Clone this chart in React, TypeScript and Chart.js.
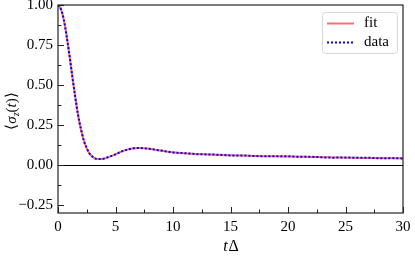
import React, { useEffect, useRef } from "react";
import { Chart, registerables } from "chart.js";

Chart.register(...registerables);

const timeValues = [0, 0.25, 0.5, 0.75, 1.0, 1.25, 1.5, 1.75, 2.0, 2.25, 2.5, 2.75, 3.0, 3.25, 3.5, 3.75, 4.0, 4.5, 5, 5.5, 6, 6.5, 7, 7.5, 8, 9, 10, 11, 12, 13, 14, 15, 16, 17, 18, 19, 20, 21, 22, 23, 24, 25, 26, 27, 28, 29, 30];
const fitValues = [1.0, 0.976, 0.909, 0.807, 0.683, 0.551, 0.424, 0.311, 0.222, 0.153, 0.104, 0.071, 0.051, 0.041, 0.037, 0.037, 0.040, 0.052, 0.067, 0.083, 0.096, 0.103, 0.106, 0.105, 0.101, 0.089, 0.079, 0.073, 0.069, 0.066, 0.063, 0.061, 0.059, 0.057, 0.055, 0.054, 0.053, 0.052, 0.050, 0.049, 0.047, 0.046, 0.045, 0.044, 0.043, 0.042, 0.041];
const dataValues = [1.0, 0.975, 0.910, 0.806, 0.684, 0.550, 0.425, 0.310, 0.223, 0.152, 0.105, 0.070, 0.052, 0.040, 0.037, 0.038, 0.040, 0.053, 0.066, 0.084, 0.095, 0.104, 0.106, 0.104, 0.100, 0.090, 0.078, 0.074, 0.068, 0.066, 0.064, 0.060, 0.060, 0.056, 0.055, 0.055, 0.054, 0.051, 0.051, 0.048, 0.046, 0.047, 0.045, 0.045, 0.042, 0.043, 0.041];
const xMajorTicks = [0, 5, 10, 15, 20, 25, 30];
const xMinorTicks = [2.5, 7.5, 12.5, 17.5, 22.5, 27.5];
const yMajorTicks = [-0.25, 0, 0.25, 0.5, 0.75, 1.0];
const yMinorTicks = [-0.125, 0.125, 0.375, 0.625, 0.875];
const seriesNames = ["fit", "data"];
const xTitle = ["t", "Δ"];

const SERIF = "'Liberation Serif', serif";
const FIT_COLOR = "#ff6b6b";
const DATA_COLOR = "#0000ff";

const decor = {
  id: "decor",
  beforeDatasetsDraw(chart: any) {
    const { ctx, chartArea: a, scales } = chart;
    const y0 = Math.round(scales.y.getPixelForValue(0)) + 0.5;
    ctx.save();
    ctx.strokeStyle = "#000";
    ctx.lineWidth = 1.2;
    ctx.beginPath();
    ctx.moveTo(a.left, y0);
    ctx.lineTo(a.right, y0);
    ctx.stroke();
    ctx.restore();
  },
  afterDraw(chart: any) {
    const { ctx, chartArea: a, scales } = chart;
    ctx.save();
    ctx.strokeStyle = "#222";
    ctx.lineWidth = 1.2;
    ctx.strokeRect(a.left, a.top, a.right - a.left, a.bottom - a.top);
    ctx.lineWidth = 1;
    const tick = (x1: number, y1: number, x2: number, y2: number) => {
      ctx.beginPath();
      ctx.moveTo(x1, y1);
      ctx.lineTo(x2, y2);
      ctx.stroke();
    };
    xMajorTicks.forEach((v) => {
      const x = Math.round(scales.x.getPixelForValue(v)) + 0.5;
      tick(x, a.bottom, x, a.bottom - 6);
    });
    xMinorTicks.forEach((v) => {
      const x = Math.round(scales.x.getPixelForValue(v)) + 0.5;
      tick(x, a.bottom, x, a.bottom - 3.5);
    });
    yMajorTicks.forEach((v) => {
      const y = Math.round(scales.y.getPixelForValue(v)) + 0.5;
      tick(a.left, y, a.left + 6, y);
    });
    yMinorTicks.forEach((v) => {
      const y = Math.round(scales.y.getPixelForValue(v)) + 0.5;
      tick(a.left, y, a.left + 3.5, y);
    });

    // x title
    ctx.fillStyle = "#000";
    ctx.textBaseline = "alphabetic";
    const cx = (a.left + a.right) / 2;
    ctx.font = `italic 16px ${SERIF}`;
    const w1 = ctx.measureText(xTitle[0]).width;
    ctx.font = `16px ${SERIF}`;
    const w2 = ctx.measureText(xTitle[1]).width;
    const sx = cx - (w1 + w2) / 2;
    ctx.font = `italic 16px ${SERIF}`;
    ctx.textAlign = "left";
    ctx.fillText(xTitle[0], sx, 251);
    ctx.font = `16px ${SERIF}`;
    ctx.fillText(xTitle[1], sx + w1 + 1, 251);

    // y title
    const cy = (a.top + a.bottom) / 2 + 2;
    ctx.save();
    ctx.translate(16, cy);
    ctx.rotate(-Math.PI / 2);
    const parts: [string, string, number][] = [
      ["⟨", `15px ${SERIF}`, 0],
      ["σ", `italic 15px ${SERIF}`, 0],
      ["z", `italic 10px ${SERIF}`, 3],
      ["(", `15px ${SERIF}`, 0],
      ["t", `italic 15px ${SERIF}`, 0],
      [")", `15px ${SERIF}`, 0],
      ["⟩", `15px ${SERIF}`, 0],
    ];
    let total = 0;
    parts.forEach(([s, f]) => {
      ctx.font = f;
      total += ctx.measureText(s).width;
    });
    let px = -total / 2;
    parts.forEach(([s, f, dy]) => {
      ctx.font = f;
      ctx.fillText(s, px, dy);
      px += ctx.measureText(s).width;
    });
    ctx.restore();

    // legend
    const lx = 322, ly = 12, lw = 75, lh = 41;
    ctx.fillStyle = "rgba(255,255,255,0.85)";
    ctx.strokeStyle = "#d8d8d8";
    ctx.lineWidth = 1;
    ctx.beginPath();
    (ctx as any).roundRect(lx + 0.5, ly + 0.5, lw, lh, 3);
    ctx.fill();
    ctx.stroke();
    ctx.lineWidth = 2;
    ctx.strokeStyle = FIT_COLOR;
    tick(lx + 5, ly + 11.5, lx + 32, ly + 11.5);
    ctx.strokeStyle = DATA_COLOR;
    ctx.setLineDash([2, 2]);
    tick(lx + 5, ly + 30.5, lx + 32, ly + 30.5);
    ctx.setLineDash([]);
    ctx.fillStyle = "#000";
    ctx.font = `15px ${SERIF}`;
    ctx.textAlign = "left";
    ctx.textBaseline = "middle";
    ctx.fillText(seriesNames[0], lx + 42, ly + 11);
    ctx.fillText(seriesNames[1], lx + 42, ly + 30);
    ctx.restore();
  },
};

export default function App() {
  const ref = useRef<HTMLCanvasElement>(null);
  useEffect(() => {
    document.body.style.margin = "0";
    const chart = new Chart(ref.current!, {
      type: "line",
      data: {
        datasets: [
          {
            label: seriesNames[0],
            data: timeValues.map((t, i) => ({ x: t, y: fitValues[i] })),
            borderColor: FIT_COLOR,
            borderWidth: 2,
            pointRadius: 0,
            cubicInterpolationMode: "monotone",
            order: 2,
          },
          {
            label: seriesNames[1],
            data: timeValues.map((t, i) => ({ x: t, y: dataValues[i] })),
            borderColor: DATA_COLOR,
            borderWidth: 2,
            borderDash: [2, 2],
            pointRadius: 0,
            cubicInterpolationMode: "monotone",
            order: 1,
          },
        ],
      },
      options: {
        animation: false,
        responsive: false,
        maintainAspectRatio: false,
        layout: { padding: { left: 0, right: 12, top: 5, bottom: 0 } },
        plugins: { legend: { display: false }, tooltip: { enabled: false } },
        scales: {
          x: {
            type: "linear",
            min: 0,
            max: 30,
            grid: { display: false, drawTicks: false },
            border: { display: false },
            afterBuildTicks: (s: any) => {
              s.ticks = xMajorTicks.map((v) => ({ value: v }));
            },
            afterFit: (s: any) => {
              s.height = 44;
              s.paddingLeft = 0;
              s.paddingRight = 0;
            },
            ticks: {
              color: "#000",
              font: { family: SERIF, size: 15 },
              padding: 5,
              maxRotation: 0,
              autoSkip: false,
            },
          },
          y: {
            type: "linear",
            min: -0.3,
            max: 1.0,
            grid: { display: false, drawTicks: false },
            border: { display: false },
            afterBuildTicks: (s: any) => {
              s.ticks = yMajorTicks.map((v) => ({ value: v }));
            },
            afterFit: (s: any) => {
              s.width = 58;
              s.paddingTop = 0;
              s.paddingBottom = 0;
            },
            ticks: {
              color: "#000",
              font: { family: SERIF, size: 15 },
              padding: 5,
              autoSkip: false,
              callback: (v: any) => {
                const n = Number(v);
                const s = Math.abs(n).toFixed(2);
                return n < 0 ? "−" + s : s;
              },
            },
          },
        },
      },
      plugins: [decor],
    });
    return () => chart.destroy();
  }, []);
  return (
    <div style={{ position: "absolute", left: 0, top: 0, width: 415, height: 257 }}>
      <canvas ref={ref} width={415} height={257} style={{ display: "block" }} />
    </div>
  );
}
